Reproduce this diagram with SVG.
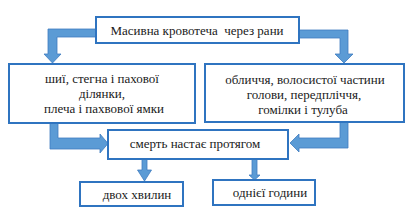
<svg xmlns="http://www.w3.org/2000/svg" width="413" height="212" viewBox="0 0 413 212">
<style>
.box{fill:#fff;stroke:#2f74c0;stroke-width:2}
.arr{fill:#5b9bd5;stroke:#3f7cc0;stroke-width:0.8;stroke-linejoin:miter}
text{font-family:"Liberation Serif","Times New Roman",serif;font-size:13px;fill:#1a1a1a;text-anchor:middle}
</style>
<rect width="413" height="212" fill="#fff"/>
<g id="connectors">
<path class="arr" d="M96,29 L48,29 L48,54 L44,54 L52.5,63 L61,54 L57,54 L57,37 L96,37 Z"/>
<path class="arr" d="M299,30 L348,30 L348,54 L353,54 L344,63 L335,54 L340,54 L340,38 L299,38 Z"/>
<path class="arr" d="M50,122 L50,149 L100,149 L100,153 L108,143.5 L100,134 L100,138 L58,138 L58,122 Z"/>
<path class="arr" d="M348,122 L348,148 L299,148 L299,152 L290,143 L299,134 L299,138 L340,138 L340,122 Z"/>
<path class="arr" d="M142,159 L142,170 L137.5,170 L144.5,181 L151.5,170 L147,170 L147,159 Z"/>
<path class="arr" d="M252,159 L252,175 L249,175 L254.5,180 L260,175 L257,175 L257,159 Z"/>
</g>
<g id="top">
<rect class="box" x="96" y="17" width="203" height="26"/>
<text x="197" y="35" xml:space="preserve" style="white-space:pre">Масивна кровотеча  через рани</text>
</g>
<g id="left">
<rect class="box" x="9" y="64" width="186" height="59"/>
<text x="102" y="83">шиї, стегна і пахової</text>
<text x="102" y="98">ділянки,</text>
<text x="104" y="113">плеча і пахвової ямки</text>
</g>
<g id="right">
<rect class="box" x="205" y="64" width="199" height="58"/>
<text x="305" y="84">обличчя, волосистої частини</text>
<text x="304" y="99">голови, передпліччя,</text>
<text x="303" y="114">гомілки і тулуба</text>
</g>
<g id="death">
<rect class="box" x="108" y="130" width="180" height="29"/>
<text x="195" y="148">смерть настає протягом</text>
</g>
<g id="two-min">
<rect class="box" x="80" y="182" width="103" height="24"/>
<text x="137" y="199">двох хвилин</text>
</g>
<g id="one-hour">
<rect class="box" x="213" y="180" width="102" height="25"/>
<text x="270" y="197">однієї години</text>
</g>
</svg>
